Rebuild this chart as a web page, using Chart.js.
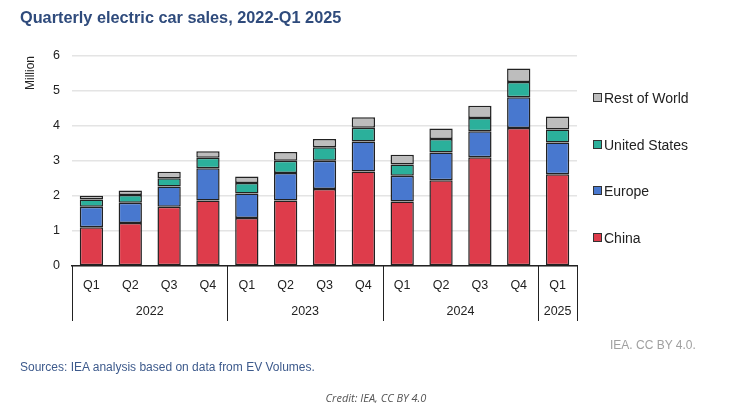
<!DOCTYPE html>
<html>
<head>
<meta charset="utf-8">
<script src="https://cdn.jsdelivr.net/npm/chart.js@4.4.1/dist/chart.umd.min.js"></script>
<style>
  body { margin: 0; background: #fff; font-family: "Liberation Sans", Arial, sans-serif; }
  #wrap { position: relative; width: 744px; height: 415px; overflow: hidden; }
  #c { position: absolute; left: 0; top: 0; }
  .title { position: absolute; left: 20px; top: 8px; font-size: 16.3px; font-weight: bold; color: #2f4b7c; }
  #legend { position: absolute; left: 593px; top: 90px; }
  .item { height: 46.7px; font-size: 14px; color: #222; white-space: nowrap; }
  .item span.box { display: inline-block; width: 7px; height: 7px; border: 1px solid #333; margin-right: 2px; vertical-align: 1px; }
  .iea { position: absolute; left: 610px; top: 338px; font-size: 12px; color: #a0a0a0; }
  .src { position: absolute; left: 20px; top: 360px; font-size: 12px; color: #3d5a8c; }
  .credit { position: absolute; left: 0; width: 752px; text-align: center; top: 390px; font-family: "Open Sans", sans-serif; font-style: italic; font-size: 11px; color: #555; }
</style>
</head>
<body>
<div id="wrap">
  <canvas id="c" width="744" height="415"></canvas>
  <div class="title">Quarterly electric car sales, 2022-Q1 2025</div>
  <div id="legend"></div>
  <div class="iea">IEA. CC BY 4.0.</div>
  <div class="src">Sources: IEA analysis based on data from EV Volumes.</div>
  <div class="credit">Credit: IEA, CC BY 4.0</div>
</div>
<script>
var quarters = ["Q1", "Q2", "Q3", "Q4", "Q1", "Q2", "Q3", "Q4", "Q1", "Q2", "Q3", "Q4", "Q1"];
var years = ["2022", "2023", "2024", "2025"];
var yearSpans = [4, 4, 4, 1];

var china = [1.11, 1.23, 1.69, 1.87, 1.37, 1.87, 2.20, 2.70, 1.84, 2.45, 3.11, 3.94, 2.62];
var europe = [0.58, 0.58, 0.58, 0.92, 0.70, 0.79, 0.81, 0.86, 0.74, 0.79, 0.74, 0.88, 0.91];
var unitedStates = [0.21, 0.22, 0.24, 0.30, 0.30, 0.35, 0.38, 0.39, 0.32, 0.39, 0.38, 0.44, 0.37];
var restOfWorld = [0.11, 0.13, 0.18, 0.19, 0.19, 0.25, 0.24, 0.30, 0.28, 0.30, 0.35, 0.38, 0.37];

var seriesNames = ["China", "Europe", "United States", "Rest of World"];
var seriesColors = ["#de3c4b", "#4878cf", "#2bb09b", "#bdbdbd"];
var seriesData = [china, europe, unitedStates, restOfWorld];

// group labels + separators under the quarter ticks
var yearGroups = {
  id: 'yearGroups',
  afterDraw: function(chart) {
    var ctx = chart.ctx, x = chart.scales.x, area = chart.chartArea;
    var top = area.bottom, bottom = area.bottom + 55;
    var edges = [area.left];
    var idx = 0;
    for (var g = 0; g < yearSpans.length; g++) {
      idx += yearSpans[g];
      if (idx < quarters.length) {
        edges.push((x.getPixelForValue(idx - 1) + x.getPixelForValue(idx)) / 2);
      } else {
        edges.push(area.right);
      }
    }
    ctx.save();
    ctx.strokeStyle = "#222";
    ctx.lineWidth = 1;
    for (var i = 0; i < edges.length; i++) {
      var ex = Math.round(edges[i]) + 0.5;
      ctx.beginPath();
      ctx.moveTo(ex, top);
      ctx.lineTo(ex, bottom);
      ctx.stroke();
    }
    ctx.fillStyle = "#222";
    ctx.font = "12.5px 'Liberation Sans', Arial, sans-serif";
    ctx.textAlign = "center";
    ctx.textBaseline = "middle";
    for (var j = 0; j < years.length; j++) {
      ctx.fillText(years[j], (edges[j] + edges[j + 1]) / 2, area.bottom + 46);
    }
    ctx.restore();
  }
};

var datasets = [];
for (var s = 0; s < seriesNames.length; s++) {
  datasets.push({
    label: seriesNames[s],
    data: seriesData[s],
    backgroundColor: seriesColors[s],
    borderColor: "#222",
    borderWidth: 1.5,
    borderSkipped: false,
    barPercentage: 0.6,
    categoryPercentage: 1
  });
}

var legendHtml = "";
for (var k = seriesNames.length - 1; k >= 0; k--) {
  legendHtml += '<div class="item"><span class="box" style="background:' + seriesColors[k] + '"></span>' + seriesNames[k] + '</div>';
}
document.getElementById("legend").innerHTML = legendHtml;

new Chart(document.getElementById("c"), {
  type: 'bar',
  data: { labels: quarters, datasets: datasets },
  options: {
    responsive: false,
    animation: false,
    layout: { padding: { left: 23, right: 167, top: 56, bottom: 94 } },
    plugins: { legend: { display: false }, tooltip: { enabled: false } },
    scales: {
      x: {
        stacked: true,
        afterFit: function(s) { s.height = 55; },
        grid: { display: false },
        border: { display: true, color: "#222", width: 1.5 },
        ticks: { color: "#222", padding: 4, font: { size: 12.5, family: "'Liberation Sans', Arial, sans-serif" } }
      },
      y: {
        stacked: true,
        min: 0,
        max: 6,
        afterFit: function(s) { s.width = 49; },
        grid: { color: "#e4e4e4", lineWidth: 1.5, drawTicks: false },
        border: { display: false },
        ticks: { stepSize: 1, color: "#222", padding: 12, font: { size: 12.5, family: "'Liberation Sans', Arial, sans-serif" } },
        title: { display: true, text: "Million", align: "end", color: "#222", padding: 0, font: { size: 12, family: "'Liberation Sans', Arial, sans-serif" } }
      }
    }
  },
  plugins: [yearGroups]
});
</script>
</body>
</html>
